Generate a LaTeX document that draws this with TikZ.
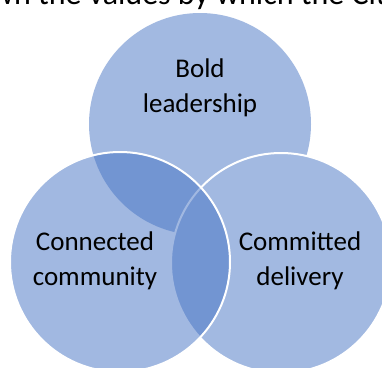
\documentclass[tikz,border=0pt]{standalone}
\usepackage{fontspec}
\setmainfont{Carlito}
\definecolor{vlight}{HTML}{A2B9E1}
\definecolor{vbase}{HTML}{4472C4}
\tikzset{
  venn/.style={circle, inner sep=0pt, minimum size=#1},
  lbl/.style={font=\fontsize{27}{33}\selectfont, text=black, inner sep=0pt, anchor=base},
}
\begin{document}
\begin{tikzpicture}[x=1pt, y=-1pt]
\useasboundingbox (0,0) rectangle (382,367);
\clip (0,0) rectangle (382,367);
\fill[white] (0,0) rectangle (382,367);
% heading line (cut off)
\node[font=\fontsize{32}{38}\selectfont, inner sep=0pt, anchor=base west] (head) at (-9,4) {wn the values by which the Cit};
% circles
\node[venn=222pt, fill=vlight] (top) at (200,124) {};
\node[venn=220pt, fill=vlight, draw=white, line width=2pt] (right) at (281,263) {};
\node[venn=220pt, fill=vbase, fill opacity=0.5, draw=white, draw opacity=1, line width=2pt] (left) at (120,262) {};
% labels
\node[lbl] (bold) at (200,77) {Bold};
\node[lbl] (lead) at (200,112) {leadership};
\node[lbl] (conn) at (95,250) {Connected};
\node[lbl] (comm) at (95,285) {community};
\node[lbl] (commit) at (300,250) {Committed};
\node[lbl] (deliv) at (300,285) {delivery};
\end{tikzpicture}
\end{document}
